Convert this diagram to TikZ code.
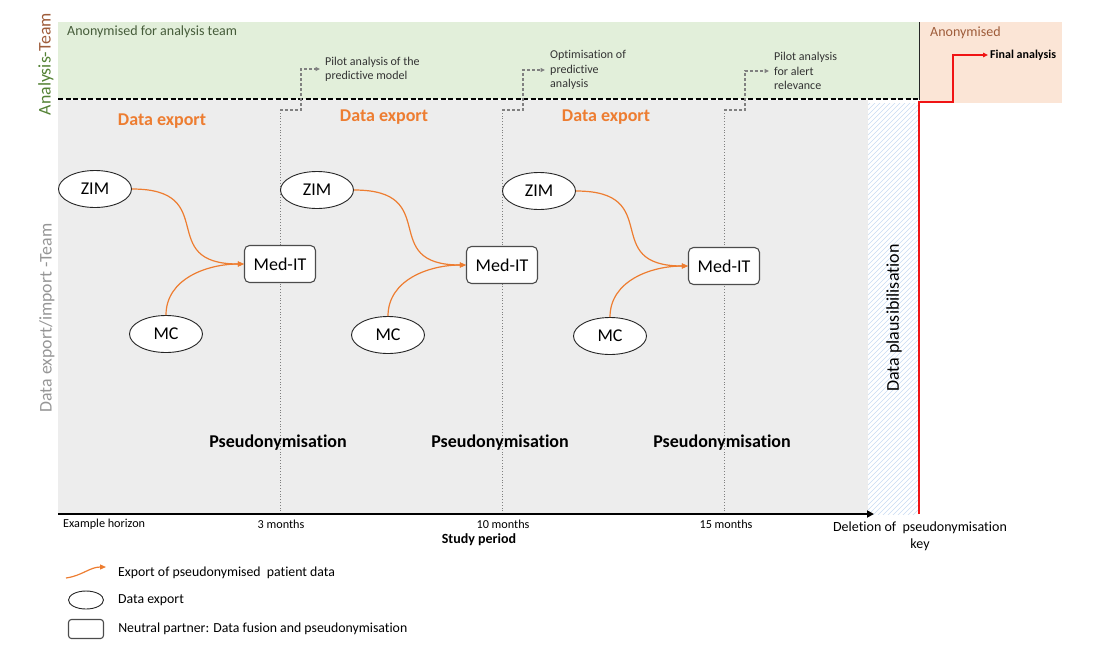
\documentclass[tikz,border=0pt]{standalone}
\usepackage{fontspec}
\setmainfont{Carlito}[Ligatures=NoCommon]
\usetikzlibrary{arrows.meta,positioning,shapes.geometric,calc}
\definecolor{bandgreen}{RGB}{226,239,218}
\definecolor{bandpeach}{RGB}{251,229,214}
\definecolor{panel}{RGB}{237,237,237}
\definecolor{hatch}{RGB}{200,219,242}
\definecolor{flow}{RGB}{237,125,49}
\definecolor{teamgreen}{RGB}{84,130,53}
\definecolor{labelgrey}{RGB}{150,150,150}
\definecolor{anongreen}{RGB}{70,92,58}
\definecolor{anonbrown}{RGB}{158,92,58}
\definecolor{alarm}{RGB}{240,20,20}

\tikzset{
  srcnode/.style={ellipse,draw=black!85,fill=white,line width=0.9pt,
    minimum width=73pt,minimum height=37pt,inner sep=0pt,
    font=\fontsize{18}{21}\selectfont},
  hubnode/.style={rectangle,rounded corners=5pt,draw=black!70,fill=white,
    line width=1.1pt,minimum width=71pt,minimum height=37pt,inner sep=0pt,
    font=\fontsize{18}{21}\selectfont},
  flowline/.style={flow,line width=1.2pt,-{Triangle[length=6pt,width=5pt]}},
  tickline/.style={black!50,dotted,line width=0.8pt},
  stepline/.style={black!50,line width=1.2pt,dash pattern=on 3pt off 2pt,
    -{Triangle[length=4.5pt,width=4pt]}},
  phase/.style={text=flow,font=\bfseries\fontsize{18}{21}\selectfont},
  pseudo/.style={font=\bfseries\fontsize{18}{21}\selectfont},
  note/.style={anchor=west,align=left,inner xsep=5pt,inner ysep=1pt,
    text=black!80,font=\fontsize{12}{14.3}\selectfont},
  axislabel/.style={inner sep=1pt,font=\fontsize{12.2}{14}\selectfont},
  legtext/.style={anchor=west,inner sep=1pt,font=\fontsize{13.8}{16}\selectfont},
  sidelabel/.style={rotate=90,inner sep=0pt,font=\fontsize{17.8}{20}\selectfont}
}

\begin{document}
\begin{tikzpicture}[x=1pt,y=-1pt]
  \useasboundingbox (0,0) rectangle (1094,646);
  % bands and panels
  \fill[bandgreen] (58,22) rectangle (919,99);
  \fill[bandpeach] (920,22) rectangle (1062,103);
  \fill[panel] (58,100) rectangle (868,514);
  \begin{scope}
    \clip (868,103) rectangle (918,514);
    \foreach \y in {100,105,...,580}
      \draw[hatch,line width=0.6pt] (868,\y) -- ++(50,-50);
  \end{scope}
  \draw[black,line width=1.6pt,dash pattern=on 5pt off 2.5pt] (58,99) -- (918,99);
  \draw[black!85,line width=1.4pt] (919.5,22) -- (919.5,100);

  % side labels
  \node[sidelabel] (analysisteam) at (46,64)
    {\textcolor{teamgreen}{Analysis-}\textcolor{anonbrown}{Team}};
  \node[sidelabel,text=labelgrey] (exportteam) at (47,318) {Data export/import -Team};
  \node[anchor=west,inner sep=1pt,text=anongreen,
    font=\fontsize{14}{16}\selectfont] (anonteam) at (66,32) {Anonymised for analysis team};
  \node[anchor=west,inner sep=1pt,text=anonbrown,
    font=\fontsize{14}{16}\selectfont] (anon) at (929,33) {Anonymised};
  \node[rotate=90,inner sep=0pt,font=\fontsize{18}{21}\selectfont] (plaus) at (894,318)
    {Data plausibilisation};

  % analysis notes
  \node[note] (note1) at (320,69) {Pilot analysis of the\\predictive model};
  \node[note] (note2) at (545,70) {Optimisation of\\predictive\\analysis};
  \node[note] (note3) at (769,71) {Pilot analysis\\for alert\\relevance};
  \node[anchor=west,inner sep=2pt,font=\bfseries\fontsize{12}{14}\selectfont]
    (final) at (988,55) {Final analysis};

  % three export rounds
  \foreach \i/\tx/\dy/\ey in {1/280/0/121,2/502/1/117,3/724/2/117} {
    \coordinate (tick\i) at (\tx,514);
    \coordinate (bend\i) at (\tx,110);
    \draw[tickline] (tick\i) -- (bend\i);
    \draw[stepline] (bend\i) -- ++(21,0) |- (note\i.west);
    \node[phase] (export\i) at (\tx-118,\ey) {Data export};
    \node[pseudo] (pseudo\i) at (\tx-2,443) {Pseudonymisation};
    \node[srcnode] (zim\i) at (\tx-185,189+\dy) {ZIM};
    \node[srcnode] (mc\i) at (\tx-114,334+\dy) {MC};
    \node[hubnode] (medit\i) at (\tx,264+\dy) {Med-IT};
    \draw[flowline] (zim\i.east) to[out=0,in=180,looseness=1.7] (medit\i.west);
    \draw[flowline] (mc\i.north) to[out=90,in=180] (medit\i.west);
  }

  % time axis
  \coordinate (origin) at (58,514);
  \coordinate (axisend) at (874,514);
  \draw[black,line width=2pt,-{Triangle[length=7pt,width=7pt]}] (origin) -- (axisend);
  \node[axislabel,anchor=west] (horizon) at (62,524) {Example horizon};
  \node[axislabel] (m3) at (281,524) {3 months};
  \node[axislabel] (m10) at (503,524) {10 months};
  \node[axislabel] (m15) at (726,524) {15 months};
  \node[inner sep=1pt,font=\bfseries\fontsize{14}{16}\selectfont] (period) at (479,540)
    {Study period};
  \node[align=center,inner sep=1pt,font=\fontsize{14}{17}\selectfont] (deletion)
    at (920,536) {Deletion of\ \ pseudonymisation\\key};

  % key deletion and final analysis
  \coordinate (redfoot) at (919,514);
  \coordinate (redknee) at (919,102);
  \draw[alarm,line width=1.5pt,-{Triangle[length=5pt,width=4.5pt]}]
    (redfoot) -- (redknee) -- ++(34,0) |- (final.west);

  % legend
  \coordinate (lgtail) at (66,578);
  \coordinate (lghead) at (106,567);
  \draw[flowline] (lgtail) to[out=8,in=180] (lghead);
  \node[legtext] (lgflow) at (117,573) {Export of pseudonymised\ \ patient data};
  \node[srcnode,minimum width=35pt,minimum height=18pt] (lgell) at (86,600) {};
  \node[legtext,right=13pt of lgell] (lgsrc) {Data export};
  \node[hubnode,minimum width=35pt,minimum height=19pt,rounded corners=3pt]
    (lgbox) at (86,629) {};
  \node[legtext,right=13pt of lgbox] (lghub) {Neutral partner: Data fusion and pseudonymisation};
\end{tikzpicture}
\end{document}
